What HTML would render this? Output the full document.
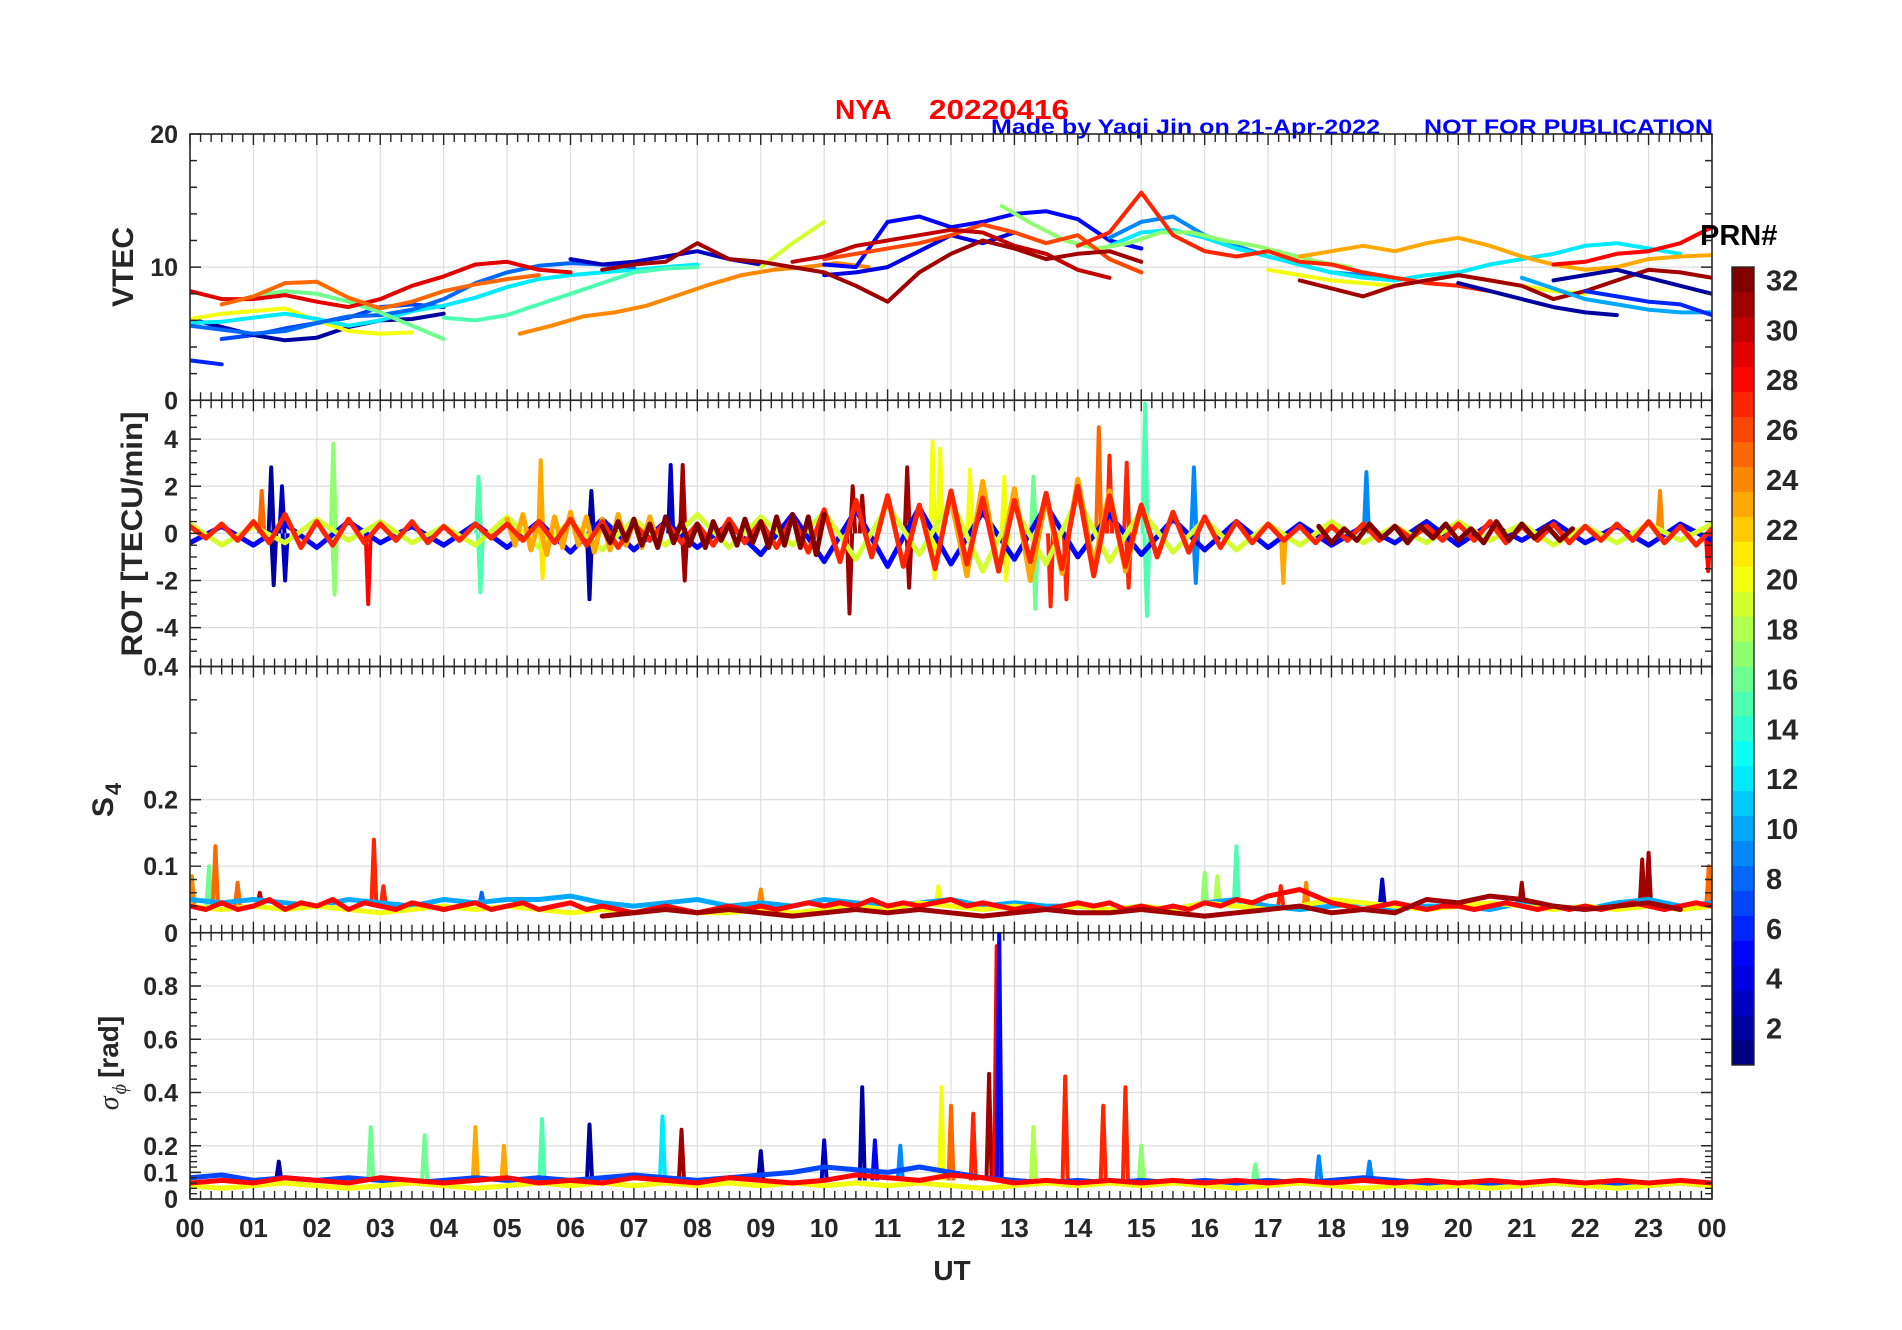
<!DOCTYPE html>
<html><head><meta charset="utf-8"><style>
html,body{margin:0;padding:0;background:#fff;}
svg{display:block;font-family:"Liberation Sans",Arial,sans-serif;font-weight:bold;}
</style></head><body>
<svg id="fig" width="1902" height="1330" viewBox="0 0 1902 1330" xmlns="http://www.w3.org/2000/svg">
<rect x="0" y="0" width="1902" height="1330" fill="#fff"/>
<defs id="defs"></defs>
<text x="835" y="119" font-size="28" fill="#ff0000">NYA</text>
<text x="929" y="119" font-size="28" fill="#ff0000" textLength="140" lengthAdjust="spacingAndGlyphs">20220416</text>
<text x="991" y="134" font-size="21" fill="#0000ff" textLength="389" lengthAdjust="spacingAndGlyphs">Made by Yaqi Jin on 21-Apr-2022</text>
<text x="1424" y="134" font-size="21" fill="#0000ff" textLength="289" lengthAdjust="spacingAndGlyphs">NOT FOR PUBLICATION</text>
<g id="grids"></g>
<g id="series"></g>
<g id="axes"></g>
</svg>
<script>
// ---------- data ----------
const hourLabels = ["00","01","02","03","04","05","06","07","08","09","10","11","12","13","14","15","16","17","18","19","20","21","22","23","00"];
const vtecTicks = [0,10,20];
const rotTicks = [-4,-2,0,2,4];
const s4Ticks = [0,0.1,0.2,0.4];
const sigTicks = [0,0.1,0.2,0.4,0.6,0.8];
const cbarTicks = [2,4,6,8,10,12,14,16,18,20,22,24,26,28,30,32];

// VTEC: PRN, start hour, values every 0.5 h
const vtecPrn = [6,7,2,20,12,8,16,29,25,15,24,3,19,4,5,9,12,17,26,30,31,27,20,23,31,2,10,6,2,28];
const vtecStart = [0,0.5,0,0,0,0,0.5,0,0.5,4,5.2,6,9,10,10,14.5,14.5,12.8,10,9.5,6.5,14,17,17.5,17.5,20,21,22,21.5,21.5];
const vtecVals = [
 [3.0,2.7],
 [4.6,4.9,5.4,5.8,6.2,7.0,7.2,7.0],
 [6.1,5.5,4.9,4.5,4.7,5.5,6.0,6.1,6.5],
 [6.1,6.5,6.7,6.9,6.0,5.2,5.0,5.1],
 [5.8,5.9,6.2,6.5,6.1,5.6,6.0,6.7,7.1,7.7,8.5,9.1,9.4,9.6,9.8,10.0,10.2],
 [5.6,5.3,5.0,5.2,5.8,6.3,6.4,6.8,7.6,8.8,9.6,10.1,10.3,10.2,10.0],
 [7.2,7.8,8.2,8.0,7.4,6.6,5.6,4.6],
 [8.2,7.6,7.6,7.9,7.4,7.0,7.6,8.6,9.3,10.2,10.4,9.8,9.6],
 [7.2,7.8,8.8,8.9,7.7,6.9,7.4,8.2,8.7,9.1,9.4],
 [6.2,6.0,6.4,7.2,8.0,8.8,9.6,9.9,10.0],
 [5.0,5.6,6.3,6.6,7.1,7.9,8.7,9.4,9.8,10.0,10.3,10.0],
 [10.6,10.2,10.4,10.8,11.2,10.6,10.2],
 [10.0,11.8,13.4],
 [9.4,9.6,10.0,11.2,12.4,11.8,12.6],
 [10.2,10.0,13.4,13.8,13.0,13.4,14.0,14.2,13.6,12.0,11.4],
 [12.2,13.4,13.8,12.4,11.6,10.8,10.2,9.6,9.4,9.0],
 [11.6,12.6,12.8,12.2,11.4,10.8,10.2,9.6,9.2,9.0,9.4,9.6,10.2,10.6,11.0,11.6,11.8,11.4,11.0],
 [14.6,13.2,12.0,11.4,11.8,12.6,12.6,12.0,11.6,11.0,10.4,10.0],
 [10.6,11.0,11.4,11.8,12.4,13.2,12.6,11.8,12.4,10.6,9.6],
 [10.4,10.8,11.6,12.0,12.4,12.8,12.6,11.6,11.0,9.8,9.2],
 [9.8,10.2,10.4,11.8,10.6,10.4,10.0,9.6,8.6,7.4,9.6,11.0,12.0,11.4,10.6,11.0,11.2,10.4],
 [11.6,12.6,15.6,12.4,11.2,10.8,11.2,10.4,10.2,9.6,9.2,8.8,8.6,8.2],
 [9.8,9.4,9.0,8.8,8.6,9.0,9.4,9.0,8.6,8.2,8.0],
 [10.8,11.2,11.6,11.2,11.8,12.2,11.6,10.8,10.2,9.8,10.0,10.6,10.8,10.9],
 [9.0,8.4,7.8,8.6,9.0,9.4,9.0,8.6,7.6,8.2,9.0,9.8,9.6,9.2],
 [8.8,8.2,7.6,7.0,6.6,6.4],
 [9.2,8.4,7.6,7.2,6.8,6.6,6.6],
 [8.2,7.8,7.4,7.2,6.4],
 [9.0,9.4,9.8,9.2,8.6,8.0],
 [10.2,10.4,11.0,11.2,11.8,13.0]
];

// ROT background band: PRN, start, step, values
const rotPrn = [5,19,23,23,27,32,32];
const rotStart = [0,0,5,12,0,6.5,17.8];
const rotStep = [0.5,0.5,0.125,0.25,0.25,0.125,0.2];
const rotVals = [
 [-0.4,0.3,-0.5,0.4,-0.6,0.5,-0.4,0.3,-0.5,0.4,-0.6,0.5,-0.8,0.6,-0.7,0.5,-0.6,0.4,-0.9,0.8,-1.2,1.0,-1.4,1.1,-1.3,0.9,-1.1,1.2,-1.0,0.8,-0.9,0.6,-0.7,0.5,-0.6,0.4,-0.5,0.3,-0.4,0.5,-0.5,0.4,-0.3,0.5,-0.4,0.3,-0.5,0.4,-0.3],
 [0.4,-0.5,0.3,-0.4,0.6,-0.3,0.5,-0.4,0.3,-0.5,0.7,-0.6,0.5,-0.7,0.6,-0.5,0.8,-0.6,0.7,-0.5,0.9,-1.1,1.2,-0.9,1.4,-1.6,1.1,-1.3,1.5,-1.2,1.0,-0.8,0.6,-0.7,0.4,-0.5,0.5,-0.4,0.3,-0.4,0.5,-0.3,0.4,-0.5,0.3,-0.4,0.4,-0.3,0.4],
 [0.6,-0.5,0.8,-0.7,0.5,-0.9,0.7,-0.6,0.9,-0.5,0.7,-0.8,0.6,-0.7,0.8,-0.5,0.6,-0.6,0.7,-0.4,0.5],
 [1.4,-1.8,2.2,-1.6,1.9,-2.0,1.5,-1.7,2.3,-1.4,1.8,-1.6,1.2],
 [0.3,-0.2,0.4,-0.3,0.5,-0.4,0.8,-0.6,0.5,-0.5,0.6,-0.4,0.4,-0.3,0.5,-0.4,0.3,-0.3,0.4,-0.2,
  0.4,-0.3,0.5,-0.4,0.6,-0.5,0.5,-0.6,0.4,-0.3,0.5,-0.4,0.4,-0.5,0.6,-0.4,0.5,-0.6,0.7,-0.8,
  1.0,-1.2,1.4,-1.0,1.6,-1.4,1.2,-1.5,1.8,-1.3,1.5,-1.6,1.4,-1.2,1.7,-1.5,2.0,-1.8,1.6,-1.4,
  1.2,-1.0,0.9,-0.8,0.7,-0.6,0.5,-0.4,0.4,-0.3,0.3,-0.4,0.3,-0.3,0.4,-0.3,0.3,-0.2,0.3,-0.3,
  0.4,-0.3,0.5,-0.4,0.3,-0.3,0.4,-0.4,0.3,-0.3,0.4,-0.3,0.5,-0.4,0.3,-0.5,0.2],
 [0.3,-0.4,0.5,-0.3,0.6,-0.5,0.4,-0.6,0.7,-0.4,0.5,-0.5,0.4,-0.6,0.5,-0.3,0.4,-0.5,0.6,-0.4,0.5,-0.6,0.7,-0.5,0.8,-0.6,0.7,-0.9,0.8],
 [0.3,-0.4,0.2,-0.3,0.4,-0.2,0.3,-0.4,0.3,-0.2,0.4,-0.3,0.2,-0.4,0.5,-0.3,0.4,-0.2,0.3,-0.3,0.2]
];
// ROT spikes: hour, value, PRN
const rotSpikeT = [1.28,1.32,1.13,1.45,1.5,2.26,2.28,2.81,4.55,4.58,5.53,5.56,6.3,6.33,7.58,7.77,7.8,10.4,10.45,10.6,11.31,11.34,11.71,11.74,11.83,12.3,12.84,12.87,13.3,13.33,13.57,13.82,14.33,14.5,14.77,14.8,15.06,15.09,15.83,15.86,17.24,18.55,23.18,23.94];
const rotSpikeV = [2.8,-2.2,1.8,2.0,-2.0,3.8,-2.6,-3.0,2.4,-2.5,3.1,-1.9,-2.8,1.8,2.9,2.9,-2.0,-3.4,2.0,1.6,2.8,-2.3,3.9,-1.9,3.6,2.7,2.4,-2.0,2.4,-3.2,-3.1,-2.8,4.5,3.3,3.0,-2.3,5.5,-3.5,2.8,-2.1,-2.1,2.6,1.8,-1.6];
const rotSpikeP = [2,2,25,3,3,17,17,28,15,15,23,21,2,2,3,31,31,31,31,31,31,31,20,20,20,20,20,20,16,16,27,27,25,27,27,27,15,15,9,9,23,9,24,28];

// S4 base band: PRN, start, step, values
const s4Prn = [10,20,28,31];
const s4Start = [0,0,0,6.5];
const s4Step = [0.5,0.5,0.25,0.5];
const s4Vals = [
 [0.05,0.045,0.05,0.045,0.04,0.05,0.045,0.04,0.05,0.045,0.05,0.05,0.055,0.045,0.04,0.045,0.05,0.04,0.045,0.04,0.05,0.045,0.04,0.045,0.05,0.04,0.045,0.04,0.04,0.035,0.04,0.035,0.045,0.05,0.04,0.035,0.04,0.045,0.035,0.04,0.04,0.035,0.045,0.04,0.035,0.045,0.05,0.04,0.045],
 [0.04,0.035,0.04,0.035,0.04,0.035,0.03,0.035,0.04,0.035,0.04,0.035,0.03,0.035,0.03,0.035,0.03,0.03,0.035,0.03,0.035,0.04,0.035,0.045,0.04,0.035,0.04,0.035,0.04,0.035,0.04,0.035,0.045,0.04,0.035,0.04,0.05,0.045,0.04,0.035,0.04,0.045,0.04,0.035,0.04,0.035,0.04,0.035,0.04],
 [0.04,0.035,0.045,0.035,0.04,0.05,0.035,0.045,0.04,0.05,0.035,0.045,0.04,0.035,0.045,0.04,0.035,0.04,0.045,0.035,
  0.04,0.045,0.035,0.04,0.045,0.035,0.04,0.035,0.03,0.035,0.04,0.035,0.03,0.035,0.04,0.035,0.04,0.035,0.04,0.045,
  0.04,0.045,0.04,0.05,0.04,0.045,0.04,0.045,0.05,0.04,0.045,0.04,0.035,0.04,0.035,0.04,0.045,0.04,0.045,0.035,
  0.04,0.035,0.04,0.035,0.045,0.04,0.05,0.045,0.055,0.06,0.065,0.055,0.045,0.04,0.035,0.04,0.045,0.04,0.035,0.04,
  0.04,0.035,0.04,0.045,0.04,0.035,0.04,0.035,0.04,0.035,0.04,0.045,0.04,0.035,0.04,0.045,0.04],
 [0.025,0.03,0.035,0.03,0.035,0.03,0.025,0.03,0.035,0.03,0.035,0.03,0.025,0.03,0.035,0.03,0.03,0.035,0.03,0.025,0.03,0.035,0.04,0.03,0.035,0.03,0.05,0.045,0.055,0.05,0.04,0.035,0.04,0.045,0.035]
];
const s4SpikeT = [0.03,0.3,0.4,0.75,1.1,2.9,3.05,4.6,9.0,11.8,16.0,16.2,16.5,17.2,17.6,18.8,21.0,22.9,23.0,23.95];
const s4SpikeV = [0.085,0.1,0.13,0.075,0.06,0.14,0.07,0.06,0.065,0.07,0.09,0.085,0.13,0.07,0.075,0.08,0.075,0.11,0.12,0.1];
const s4SpikeP = [24,16,25,25,30,27,27,8,24,20,17,18,15,27,24,3,31,31,31,25];

// sigma-phi base band
const sigPrn = [7,20,28];
const sigStart = [0,0,0];
const sigStep = [0.5,0.5,0.5];
const sigVals = [
 [0.08,0.09,0.07,0.08,0.07,0.08,0.07,0.06,0.07,0.08,0.07,0.08,0.07,0.08,0.09,0.08,0.07,0.08,0.09,0.1,0.12,0.11,0.1,0.12,0.1,0.08,0.07,0.06,0.07,0.06,0.07,0.06,0.07,0.06,0.07,0.06,0.07,0.08,0.07,0.06,0.05,0.06,0.05,0.06,0.05,0.06,0.05,0.06,0.05],
 [0.05,0.04,0.05,0.06,0.05,0.04,0.05,0.06,0.05,0.04,0.05,0.06,0.05,0.06,0.05,0.06,0.05,0.06,0.05,0.06,0.05,0.06,0.05,0.06,0.05,0.04,0.05,0.06,0.05,0.06,0.05,0.06,0.05,0.04,0.05,0.06,0.05,0.04,0.05,0.04,0.05,0.04,0.05,0.06,0.05,0.04,0.05,0.06,0.05],
 [0.06,0.07,0.06,0.08,0.07,0.06,0.08,0.07,0.06,0.07,0.08,0.06,0.07,0.06,0.08,0.07,0.06,0.08,0.07,0.06,0.07,0.09,0.08,0.07,0.09,0.08,0.06,0.07,0.06,0.07,0.06,0.07,0.06,0.07,0.06,0.07,0.06,0.07,0.06,0.07,0.06,0.07,0.06,0.07,0.06,0.07,0.06,0.07,0.06]
];
const sigSpikeT = [1.4,2.85,3.7,4.5,4.95,5.55,6.3,7.45,7.75,9.0,10.0,10.6,10.8,11.2,11.85,12.0,12.35,12.6,12.72,12.76,13.3,13.8,14.4,14.75,15.0,16.8,17.8,18.6];
const sigSpikeV = [0.14,0.27,0.24,0.27,0.2,0.3,0.28,0.31,0.26,0.18,0.22,0.42,0.22,0.2,0.42,0.35,0.32,0.47,0.95,1.0,0.27,0.46,0.35,0.42,0.2,0.13,0.16,0.14];
const sigSpikeP = [2,16,16,23,23,15,2,12,31,2,3,2,5,9,20,25,27,31,28,5,18,27,27,27,17,16,9,9];

// ---------- layout ----------
const X0 = 190, X1 = 1712, TOP = 134, PH = 266.25;
const panels = [
  {name:"vtec", lo:0, hi:20},
  {name:"rot", lo:-5.65, hi:5.65},
  {name:"s4", lo:0, hi:0.4},
  {name:"sigma", lo:0, hi:1.0}
];
panels.forEach((p,i)=>{p.y0 = TOP + i*PH; p.y1 = p.y0 + PH;});
function xs(h){ return X0 + h*(X1-X0)/24; }
function ys(p,v){ v=Math.max(p.lo,Math.min(p.hi,v)); return p.y1 - (v-p.lo)/(p.hi-p.lo)*(p.y1-p.y0); }
function jet(prn){
  const v=(prn-1)/31, c=t=>Math.round(255*Math.max(0,Math.min(1,t)));
  return `rgb(${c(1.5-Math.abs(4*v-3))},${c(1.5-Math.abs(4*v-2))},${c(1.5-Math.abs(4*v-1))})`;
}
const NS="http://www.w3.org/2000/svg";
function mk(tag, attrs, parent){
  const e=document.createElementNS(NS,tag);
  for(const k in attrs) e.setAttribute(k,attrs[k]);
  parent.appendChild(e); return e;
}
const gGrid=document.getElementById('grids'), gSer=document.getElementById('series'), gAx=document.getElementById('axes'), defs=document.getElementById('defs');

const tickSets=[vtecTicks,rotTicks,s4Ticks,sigTicks];
const minorSets=[
  [2,4,6,8,12,14,16,18],
  [-5,-4.5,-3.5,-3,-2.5,-1.5,-1,-0.5,0.5,1,1.5,2.5,3,3.5,4.5,5],
  [0.02,0.04,0.06,0.08,0.12,0.14,0.16,0.18,0.25,0.3,0.35],
  [0.02,0.04,0.06,0.08,0.12,0.14,0.16,0.18,0.25,0.3,0.35,0.45,0.5,0.55,0.65,0.7,0.75,0.85,0.9,0.95]
];

// clip paths + panel groups
const panelGroups = panels.map((p,i)=>{
  const cp=mk('clipPath',{id:'clip'+i},defs);
  mk('rect',{x:X0,y:p.y0,width:X1-X0,height:PH},cp);
  const g=mk('g',{'clip-path':'url(#clip'+i+')'},gSer);
  
  
  return g;
});

// grids
panels.forEach((p,i)=>{
  for(let h=1;h<24;h++){
    const l=mk('line',{x1:xs(h),x2:xs(h),y1:p.y0,y2:p.y1,stroke:'#dedede','stroke-width':1.2},gGrid);
    
    
  }
  tickSets[i].forEach(v=>{
    if(v===p.lo||v===p.hi) return;
    const l=mk('line',{x1:X0,x2:X1,y1:ys(p,v),y2:ys(p,v),stroke:'#dedede','stroke-width':1.2},gGrid);
    
    
  });
});

function polyPts(p,start,step,vals){
  return vals.map((v,k)=>xs(start+k*step).toFixed(1)+','+ys(p,v).toFixed(1)).join(' ');
}
function drawSeries(pi,prns,starts,steps,vals,lw,name){
  const p=panels[pi];
  prns.forEach((prn,i)=>{
    const pl=mk('polyline',{points:polyPts(p,starts[i],steps[i],vals[i]),fill:'none',stroke:jet(prn),'stroke-width':lw,'stroke-linejoin':'round','stroke-linecap':'round'},panelGroups[pi]);
    
    
  });
}
function drawSpikes(pi,ts,vs,ps,base,name){
  const p=panels[pi];
  ts.forEach((t,i)=>{
    const pts=[[t-0.04,base],[t,vs[i]],[t+0.04,base]].map(q=>xs(q[0]).toFixed(1)+','+ys(p,q[1]).toFixed(1)).join(' ');
    const pl=mk('polyline',{points:pts,fill:'none',stroke:jet(ps[i]),'stroke-width':4,'stroke-linejoin':'round'},panelGroups[pi]);
    
    
  });
}
drawSeries(0,vtecPrn,vtecStart,vtecPrn.map(()=>0.5),vtecVals,4,'vtec-line');
drawSpikes(1,rotSpikeT,rotSpikeV,rotSpikeP,0,'rot');
drawSeries(1,rotPrn,rotStart,rotStep,rotVals,5,'rot-line');
drawSpikes(2,s4SpikeT,s4SpikeV,s4SpikeP,0.04,'s4');
drawSeries(2,s4Prn,s4Start,s4Step,s4Vals,5,'s4-line');
drawSpikes(3,sigSpikeT,sigSpikeV,sigSpikeP,0.07,'sigma');
drawSeries(3,sigPrn,sigStart,sigStep,sigVals,5,'sigma-line');

// axes boxes & ticks
panels.forEach((p,i)=>{
  const r=mk('rect',{x:X0,y:p.y0,width:X1-X0,height:PH,fill:'none',stroke:'#262626','stroke-width':1.6},gAx);
  
  
  let d='';
  for(let m=0;m<=144;m++){
    const x=xs(m/6), L=(m%6===0)?11:8;
    d+=`M${x},${p.y0}v${L}M${x},${p.y1}v${-L}`;
  }
  tickSets[i].forEach(v=>{const y=ys(p,v); d+=`M${X0},${y}h11M${X1},${y}h-11`;});
  minorSets[i].forEach(v=>{const y=ys(p,v); d+=`M${X0},${y}h7M${X1},${y}h-7`;});
  const t=mk('path',{d:d,stroke:'#262626','stroke-width':1.4,fill:'none'},gAx);
  
  
  tickSets[i].forEach(v=>{
    if(i>0 && v===p.hi && i!==2) return;
    const tx=mk('text',{x:178,y:ys(p,v)+9,'font-size':25,fill:'#262626','text-anchor':'end'},gAx);
    tx.textContent=String(v);
    
    
  });
});
hourLabels.forEach((lab,h)=>{
  const tx=mk('text',{x:xs(h),y:1237,'font-size':26,fill:'#262626','text-anchor':'middle'},gAx);
  tx.textContent=lab;
  
  
});
</script>
<svg style="position:absolute;left:0;top:0" width="1902" height="1330">
<g font-family="Liberation Sans, Arial, sans-serif" font-weight="bold" fill="#262626">
<text x="952" y="1280" font-size="28" text-anchor="middle">UT</text>
<text transform="translate(133,267) rotate(-90)" font-size="30" text-anchor="middle">VTEC</text>
<text transform="translate(142,534) rotate(-90)" font-size="30" text-anchor="middle" textLength="245" lengthAdjust="spacingAndGlyphs">ROT [TECU/min]</text>
<text transform="translate(113,800) rotate(-90)" font-size="30" text-anchor="middle">S<tspan font-size="22" dy="8" dx="2">4</tspan></text>
<text transform="translate(118,1063) rotate(-90)" font-size="28" text-anchor="middle"><tspan font-family="Liberation Serif, serif" font-style="italic" font-weight="normal">σ</tspan><tspan font-family="Liberation Serif, serif" font-style="italic" font-weight="normal" font-size="20" dy="8" dx="2">ϕ</tspan><tspan dy="-8" dx="6">[rad]</tspan></text>
<text x="1700" y="245" font-size="29" fill="#000">PRN#</text>
</g>
<g id="cb2"></g>
</svg>
<script>
(function(){
  const NS="http://www.w3.org/2000/svg";
  const g=document.getElementById('cb2');
  const CX=1732, CW=22, CT=267, CB=1065;
  const jet=(prn)=>{const v=(prn-1)/31,c=t=>Math.round(255*Math.max(0,Math.min(1,t)));return `rgb(${c(1.5-Math.abs(4*v-3))},${c(1.5-Math.abs(4*v-2))},${c(1.5-Math.abs(4*v-1))})`;};
  for(let k=1;k<=32;k++){
    const r=document.createElementNS(NS,'rect');
    r.setAttribute('x',CX); r.setAttribute('width',CW);
    r.setAttribute('y',CB-k*(CB-CT)/32); r.setAttribute('height',(CB-CT)/32+0.5);
    r.setAttribute('fill',jet(k));
    
    
    g.appendChild(r);
  }
  const b=document.createElementNS(NS,'rect');
  b.setAttribute('x',CX);b.setAttribute('y',CT);b.setAttribute('width',CW);b.setAttribute('height',CB-CT);
  b.setAttribute('fill','none');b.setAttribute('stroke','#262626');b.setAttribute('stroke-width','1.4');
  
  
  g.appendChild(b);
  cbarTicks.forEach(v=>{
    const y=CB-(v-1)*(CB-CT)/32 - (CB-CT)/64;
    const t=document.createElementNS(NS,'text');
    t.setAttribute('x',1766);t.setAttribute('y',y+11);
    t.setAttribute('font-size','29');t.setAttribute('font-weight','bold');
    t.setAttribute('font-family','Liberation Sans, Arial, sans-serif');t.setAttribute('fill','#262626');
    t.textContent=v;
    
    
    g.appendChild(t);
  });
})();
</script>
</body></html>
